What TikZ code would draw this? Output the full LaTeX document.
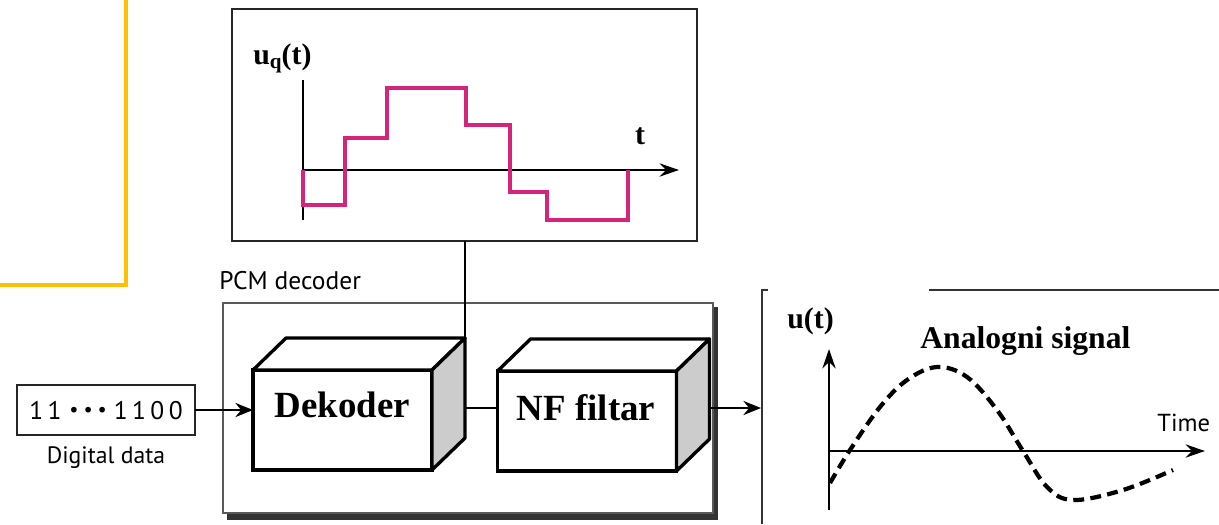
\documentclass[tikz,border=0pt]{standalone}
\usepackage{fontspec}
\setmainfont{Liberation Serif}
\newfontfamily\labelsans{PT Sans}
\usetikzlibrary{arrows.meta}
\definecolor{signalmag}{RGB}{214,36,124}
\definecolor{accentyellow}{RGB}{255,192,0}
\definecolor{sidegray}{RGB}{204,204,204}

\tikzset{
  frame/.style={draw=black!85, line width=1.3pt, fill=white, inner sep=0pt, outer sep=0pt},
  outerframe/.style={draw=black!65, line width=1pt, fill=white, inner sep=0pt, outer sep=0pt},
  face/.style={draw=black, line width=1.9pt, fill=white, inner sep=0pt, outer sep=0pt,
               minimum width=3.58cm, minimum height=2cm},
  lid/.style={draw=black, line width=1.9pt, fill=white, line join=round},
  side/.style={draw=black, line width=1.9pt, fill=sidegray, line join=round},
  wire/.style={line width=1.6pt},
  arr/.style={wire, -{Stealth[length=10pt, width=8pt]}},
  axis/.style={line width=1.4pt},
  axisarr/.style={axis, -{Stealth[length=11pt, width=7.5pt]}},
  blocktext/.style={font=\bfseries\fontsize{21}{21}\selectfont, inner sep=0pt},
  mathlabel/.style={font=\bfseries\fontsize{17}{17}\selectfont, inner sep=0pt},
  sanslabel/.style={font=\labelsans\fontsize{13.5}{14}\selectfont, inner sep=0pt},
}

\begin{document}
\begin{tikzpicture}[x=0.02cm, y=-0.02cm]
\useasboundingbox (0,0) rectangle (1219,524);
\fill[white] (0,0) rectangle (1219,524);

% yellow corner bracket
\draw[accentyellow, line width=2.4pt] (126,0) -- (126,285) -- (0,285);

% quantised signal panel
\node[frame, minimum width=9.3cm, minimum height=4.64cm] (qbox) at (464.5,125) {};
\coordinate (qo) at (303,170);
\draw[axis] (303,80) -- (303,220);
\draw[axisarr] (qo) -- (679,170);
\node[mathlabel, anchor=base west] (uq) at (253,64)
  {u\raisebox{-0.35ex}{\fontsize{12}{12}\selectfont q}(t)};
\node[mathlabel, anchor=base] (tlab) at (640,144) {t};
\draw[signalmag, line width=2.1pt, line join=miter]
  (qo) -- (303,205) -- (345,205) -- (345,138) -- (387,138) -- (387,88)
  -- (466,88) -- (466,125) -- (510,125) -- (510,192) -- (547,192)
  -- (547,220) -- (628,220) -- (628,170);

% PCM decoder enclosure with drop shadow
\fill[black!80] (227,307) rectangle (718,520);
\node[outerframe, minimum width=9.8cm, minimum height=4.2cm] (pcm) at (468,408) {};
\node[sanslabel, font=\labelsans\fontsize{14.5}{15}\selectfont, anchor=base west] (pcmlab) at (219,289) {PCM decoder};

% decoder block
\node[face] (dek) at (342.5,420) {};
\draw[lid] (dek.north west) -- ++(33,-32) -- ++(179,0) -- (dek.north east) -- cycle;
\draw[side] (dek.north east) -- ++(33,-32) -- ++(0,100) -- (dek.south east) -- cycle;
\coordinate (dekback) at ([shift={(33,-32)}]dek.north east);
\coordinate (dekout) at ([shift={(33,-12)}]dek.east);
\node[blocktext] (dektext) at (342.5,405) {Dekoder};

% low-pass filter block
\node[face] (nf) at (587,421) {};
\draw[lid] (nf.north west) -- ++(33,-32) -- ++(179,0) -- (nf.north east) -- cycle;
\draw[side] (nf.north east) -- ++(33,-32) -- ++(0,100) -- (nf.south east) -- cycle;
\coordinate (nfout) at ([shift={(33,-13)}]nf.east);
\node[blocktext] (nftext) at (586,408) {NF filtar};

% digital input
\node[frame, line width=1.3pt, minimum width=3.56cm, minimum height=1cm] (din) at (106,410) {};
\node[sanslabel, font=\labelsans\fontsize{14.5}{15}\selectfont] (dintext) at (106,411)
  {1\hspace{2.5pt}1\hspace{4.5pt}\raisebox{0.25ex}{\scalebox{0.8}{\textbullet\hspace{3.5pt}\textbullet\hspace{3.5pt}\textbullet}}\hspace{4pt}1\hspace{2.5pt}1\hspace{2.5pt}0\hspace{2.5pt}0};
\node[sanslabel, anchor=base] (dinlab) at (106,463) {Digital data};

% connectors
\draw[wire] (qbox.south -| dekback) -- (dekback);
\draw[arr] (din.east) -- (dek.west |- din.east);
\draw[wire] (dekout) -- (nf.west |- dekout);
\coordinate (outend) at (761,408);
\draw[arr] (nfout) -- (outend);

% analogue signal panel
\draw[line width=1.3pt, black!80] (762,524) -- (762,290) -- (768,290);
\draw[line width=1.3pt, black!80] (929,290) -- (1219,290);
\coordinate (ao) at (829,451);
\draw[axisarr] (829,510) -- (829,349);
\draw[axisarr] (ao) -- (1205,451);
\node[mathlabel, anchor=base west] (ulab) at (787,328) {u(t)};
\node[font=\bfseries\fontsize{18}{18}\selectfont, inner sep=0pt, anchor=base west] (alab) at (920,348) {Analogni signal};
\node[sanslabel, font=\labelsans\fontsize{14}{14}\selectfont, anchor=base west] (timelab) at (1157,431) {Time};
\draw[line width=2.4pt, dash pattern=on 6.2pt off 3.6pt]
  plot[smooth, tension=0.6] coordinates {
    (830,483) (850,450) (880,407) (907,380) (937,367) (967,377)
    (997,410) (1023,451) (1047,487) (1073,500) (1123,490) (1173,470)};
\end{tikzpicture}
\end{document}
